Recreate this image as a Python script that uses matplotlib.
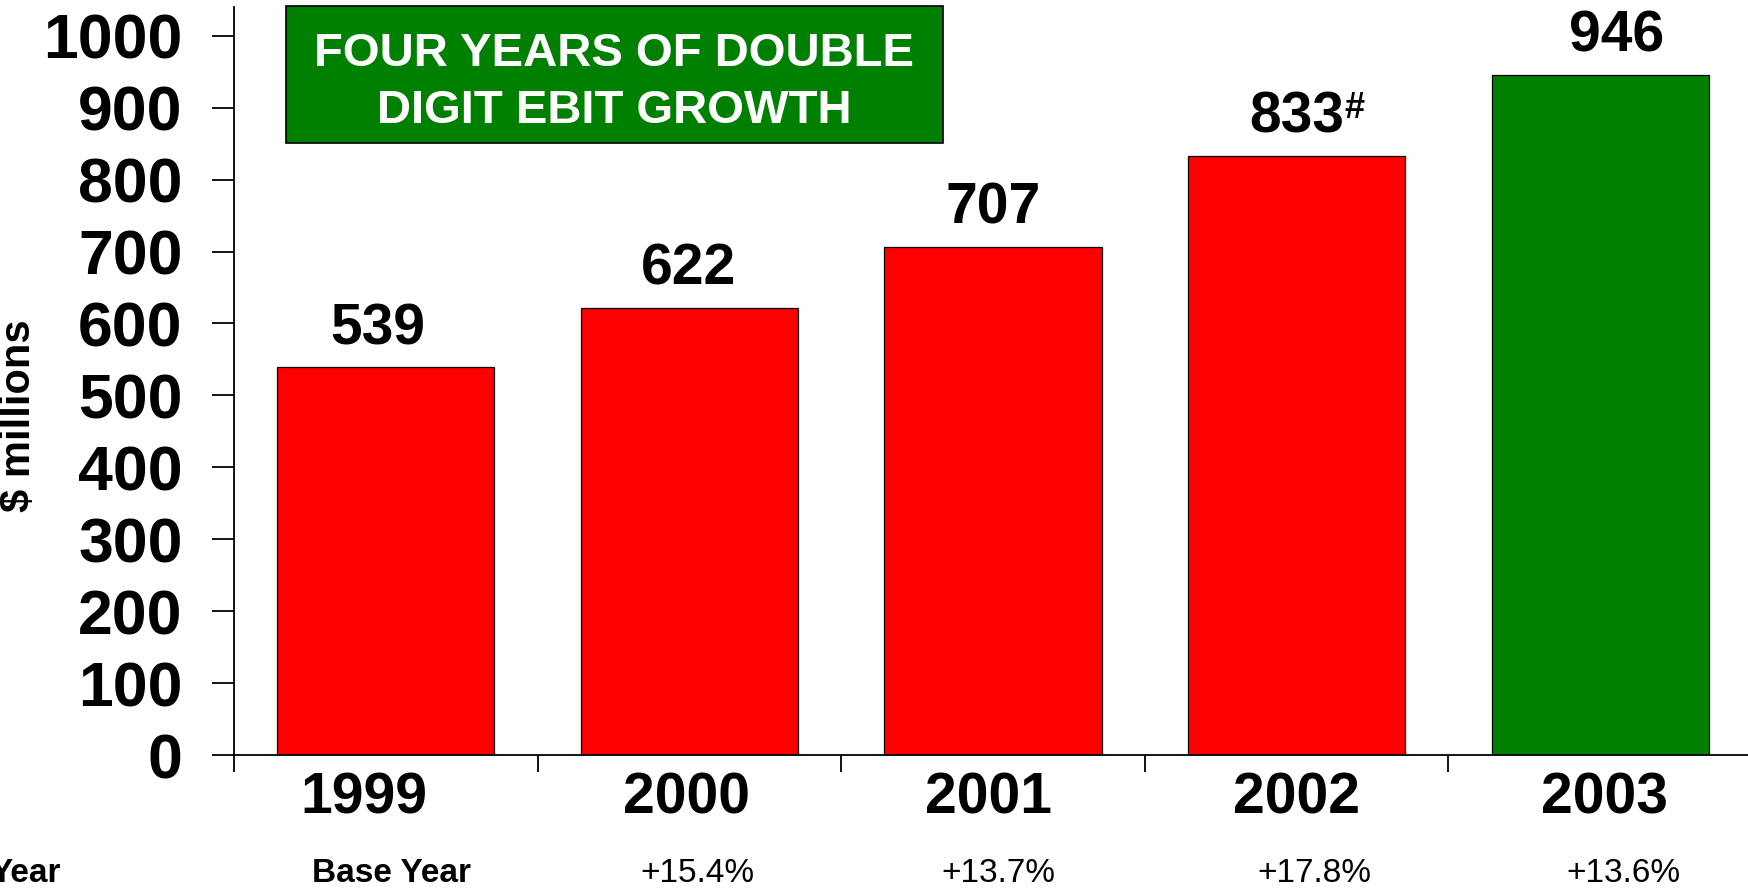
import matplotlib
matplotlib.use("Agg")
import matplotlib.pyplot as plt
from matplotlib.patches import Rectangle

plt.rcParams["font.family"] = ["Liberation Sans", "DejaVu Sans"]

# EBIT by year, $ millions
years = ["1999", "2000", "2001", "2002", "2003"]
ebit = [539, 622, 707, 833, 946]
footnotes = ["", "", "", "#", ""]
bar_colors = ["#ff0000", "#ff0000", "#ff0000", "#ff0000", "#008000"]
title_lines = ["FOUR YEARS OF DOUBLE", "DIGIT EBIT GROWTH"]
y_ticks = list(range(0, 1001, 100))

# year-on-year growth row, computed from the bar values
growth = ["Base Year"] + [
    "+{:.1f}%".format((ebit[i] / ebit[i - 1] - 1) * 100) for i in range(1, len(ebit))
]

# small hand placements (points) of the text under/over each bar
value_dx = [-6, -1, 0, 0, 12]
year_dx = [-16, -2, -3, 0, 3]
growth_dx = [4, 6, 4, 13, 17]

W, H = 1749, 888
fig = plt.figure(figsize=(W / 100, H / 100), dpi=100)
ax = fig.add_axes([234 / W, 1 - 755 / H, 1518 / W, 748 / H])

x = list(range(len(years)))
ax.bar(x, ebit, width=0.715, color=bar_colors, edgecolor="black", linewidth=0.9, zorder=2)

ax.set_xlim(-0.5, len(years) - 0.5)
ax.set_ylim(0, 1040)

for side in ["top", "right"]:
    ax.spines[side].set_visible(False)
for side in ["left", "bottom"]:
    ax.spines[side].set_linewidth(1.3)
    ax.spines[side].set_zorder(3)

# y axis
ax.set_yticks(y_ticks)
ax.set_yticklabels([str(t) for t in y_ticks], fontsize=45, fontweight="bold")
ax.tick_params(axis="y", direction="out", length=16, width=1.3, pad=21)

# x axis: tick marks sit on the category boundaries
ax.set_xticks([i - 0.5 for i in range(len(years) + 1)])
ax.set_xticklabels([])
ax.tick_params(axis="x", direction="out", length=12, width=1.3)

for i, yr in enumerate(years):
    ax.annotate(yr, xy=(i, 0), xycoords=("data", "axes fraction"),
                xytext=(year_dx[i], -12), textcoords="offset points",
                ha="center", va="top", fontsize=41, fontweight="bold")

# value labels above the bars
for i, v in enumerate(ebit):
    t = ax.annotate(str(v), xy=(i, v), xytext=(value_dx[i], 16.5),
                    textcoords="offset points", ha="center", va="baseline",
                    fontsize=41, fontweight="bold")
    if footnotes[i]:
        ax.annotate(footnotes[i], xy=(1, 1), xycoords=t, xytext=(0.5, 0),
                    textcoords="offset points", ha="left", va="top",
                    fontsize=26, fontweight="bold")

# growth row along the bottom edge
for i, g in enumerate(growth):
    ax.annotate(g, xy=(i, 6 / H), xycoords=("data", "figure fraction"),
                xytext=(growth_dx[i], 0), textcoords="offset points",
                ha="center", va="baseline", fontsize=24,
                fontweight="bold" if i == 0 else "normal")
fig.text(61 / W, 6 / H, "Year", ha="right", va="baseline", fontsize=24, fontweight="bold")

fig.text(19 / W, 1 - 416 / H, "$ millions", rotation=90, ha="center", va="center",
         fontsize=30, fontweight="bold")

# green headline box
fig.patches.append(Rectangle((286 / W, 1 - 143 / H), 657 / W, 137 / H,
                             transform=fig.transFigure, facecolor="#008000",
                             edgecolor="black", linewidth=1.2, zorder=5))
for line, base in zip(title_lines, [66, 123]):
    fig.text(614 / W, 1 - base / H, line, ha="center", va="baseline", color="white",
             fontsize=34, fontweight="bold", zorder=6)

fig.savefig("out.png", dpi=100)
